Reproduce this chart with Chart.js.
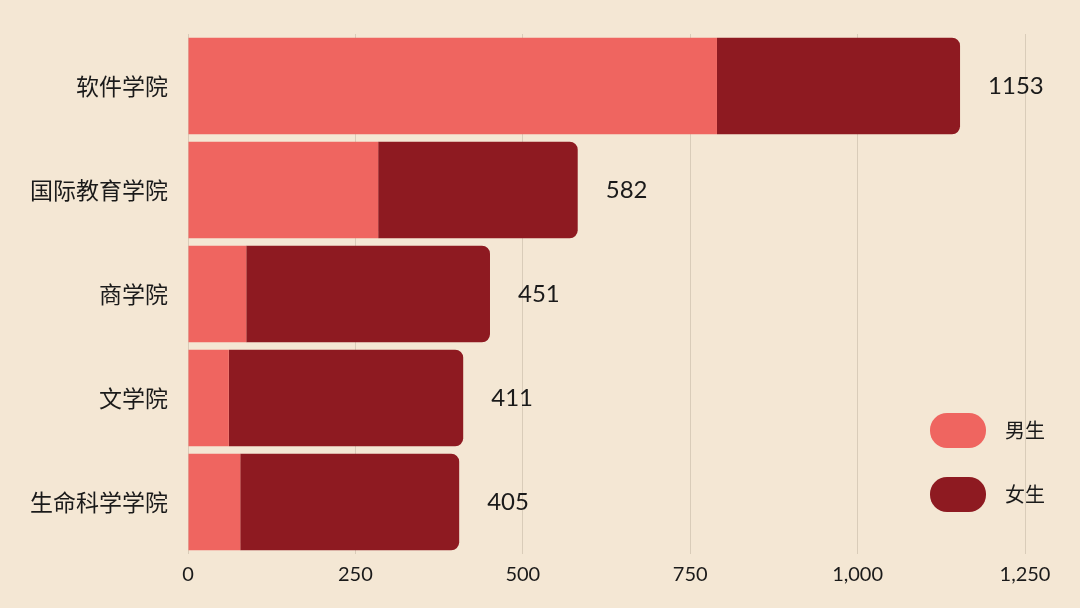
<!DOCTYPE html>
<html>
<head>
<meta charset="utf-8">
<script src="https://cdn.jsdelivr.net/npm/chart.js@4"></script>
<style>
  html, body { margin: 0; padding: 0; background: #f4e7d4; }
  #wrap { width: 1080px; height: 608px; }
</style>
</head>
<body>
<div id="wrap"><canvas id="myChart" width="1080" height="608"></canvas></div>
<script>
// 学院
var colleges = ["软件学院", "国际教育学院", "商学院", "文学院", "生命科学学院"];
var male = [790, 284, 87, 61, 78];
var female = [363, 298, 364, 350, 327];
var xTicks = [0, 250, 500, 750, 1000, 1250];

var cnFont = "'Noto Sans CJK SC', sans-serif";
var numFont = "'Lato', 'Noto Sans', sans-serif";

// totals drawn at the end of each bar
var totalLabels = {
    id: "totalLabels",
    afterDatasetsDraw: function (chart) {
        var ctx = chart.ctx;
        var x = chart.scales.x, y = chart.scales.y;
        ctx.save();
        ctx.fillStyle = "#1a1a1a";
        ctx.font = "24px " + numFont;
        ctx.textBaseline = "middle";
        ctx.textAlign = "left";
        colleges.forEach(function (c, i) {
            var total = male[i] + female[i];
            ctx.fillText(String(total), x.getPixelForValue(total) + 28, y.getPixelForValue(i));
        });
        ctx.restore();
    },
};

// legend in the lower right corner, pill shaped boxes
var pillLegend = {
    id: "pillLegend",
    afterDraw: function (chart) {
        var ctx = chart.ctx;
        ctx.save();
        chart.data.datasets.forEach(function (ds, i) {
            var bx = 930, by = 413 + i * 64, bw = 56, bh = 35;
            ctx.fillStyle = ds.backgroundColor;
            ctx.beginPath();
            ctx.roundRect(bx, by, bw, bh, 17);
            ctx.fill();
            ctx.fillStyle = "#1a1a1a";
            ctx.font = "20px " + cnFont;
            ctx.textBaseline = "middle";
            ctx.fillText(ds.label, 1005, by + bh / 2);
        });
        ctx.restore();
    },
};

var ctx = document.getElementById("myChart").getContext("2d");

var myChart = new Chart(ctx, {
    type: "bar",
    data: {
        labels: colleges,
        datasets: [
            {
                label: "男生",
                data: male,
                backgroundColor: "#ef6560",
                borderWidth: 0,
                borderRadius: 0,
            },
            {
                label: "女生",
                data: female,
                backgroundColor: "#8e1a21",
                borderWidth: 0,
                borderRadius: 8,
                borderSkipped: "start",
            },
        ],
    },
    options: {
        indexAxis: "y",
        responsive: false,
        animation: false,
        layout: {
            padding: { left: 10, right: 55, top: 34, bottom: 12 },
        },
        datasets: {
            bar: { categoryPercentage: 0.93, barPercentage: 1 },
        },
        plugins: {
            legend: { display: false },
            tooltip: { enabled: false },
        },
        scales: {
            x: {
                stacked: true,
                min: 0,
                max: 1250,
                afterBuildTicks: function (axis) {
                    axis.ticks = xTicks.map(function (v) { return { value: v }; });
                },
                grid: { color: "#d9ccb9", lineWidth: 1, drawTicks: false },
                border: { display: false },
                ticks: {
                    color: "#1a1a1a",
                    font: { family: numFont, size: 20 },
                    padding: 9,
                    maxRotation: 0,
                },
            },
            y: {
                stacked: true,
                grid: { display: false, drawTicks: false },
                border: { display: false },
                ticks: {
                    color: "#1a1a1a",
                    font: { family: cnFont, size: 23 },
                    padding: 20,
                },
            },
        },
    },
    plugins: [totalLabels, pillLegend],
});
</script>
</body>
</html>
